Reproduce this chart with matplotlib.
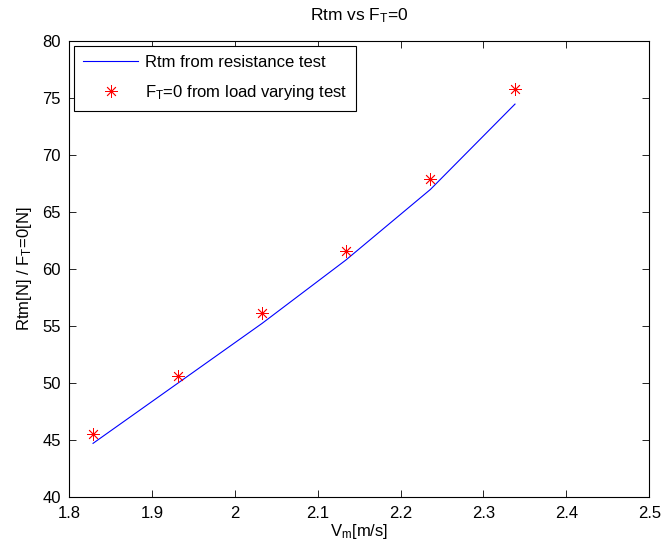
import matplotlib
matplotlib.use('Agg')
import matplotlib.pyplot as plt

# speeds of the model [m/s]
vm = [1.829, 1.932, 2.033, 2.134, 2.236, 2.338]
# Rtm from resistance test [N]
rtm = [44.73, 50.04, 55.25, 60.80, 66.99, 74.47]
# F_T=0 from load varying test [N]
ft0 = [45.52, 50.63, 56.18, 61.61, 67.90, 75.76]

plt.rcParams['font.family'] = ['Liberation Sans', 'DejaVu Sans']
plt.rcParams['font.size'] = 12
plt.rcParams['mathtext.fontset'] = 'custom'
plt.rcParams['mathtext.rm'] = 'Liberation Sans'
plt.rcParams['mathtext.it'] = 'Liberation Sans'

fig = plt.figure(figsize=(6.63, 5.55), dpi=100)
ax = fig.add_axes([69/663, 1 - 497.3/555, (649.3 - 69)/663, (497.3 - 41)/555])

ax.plot(vm, rtm, color='blue', lw=0.8, label='Rtm from resistance test')
ax.plot(vm, ft0, ls='none', marker=(8, 2, 0), ms=9, mew=0.6, color='red',
        label=r'F$_\mathrm{T}$=0 from load varying test')

ax.set_xlim(1.8, 2.5)
ax.set_ylim(40, 80)
ax.set_xticks([1.8, 1.9, 2.0, 2.1, 2.2, 2.3, 2.4, 2.5])
ax.set_xticklabels(['1.8', '1.9', '2', '2.1', '2.2', '2.3', '2.4', '2.5'])
ax.set_yticks(range(40, 81, 5))
ax.tick_params(direction='in', top=True, right=True, length=5, width=0.6, pad=6)
for s in ax.spines.values():
    s.set_linewidth(0.8)

ax.set_title(r'Rtm vs F$_\mathrm{T}$=0', fontsize=12.5, pad=15)
ax.set_xlabel(r'V$_\mathrm{m}$[m/s]', labelpad=1)
ax.set_ylabel(r'Rtm[N] / F$_\mathrm{T}$=0[N]', labelpad=6)

leg = ax.legend(loc='upper left', fancybox=False, edgecolor='black', framealpha=1,
                handlelength=3.3, borderaxespad=0.3, labelspacing=0.75, borderpad=0.55,
                handletextpad=0.4)
leg.get_frame().set_linewidth(0.8)

fig.savefig('out.png', dpi=100)
